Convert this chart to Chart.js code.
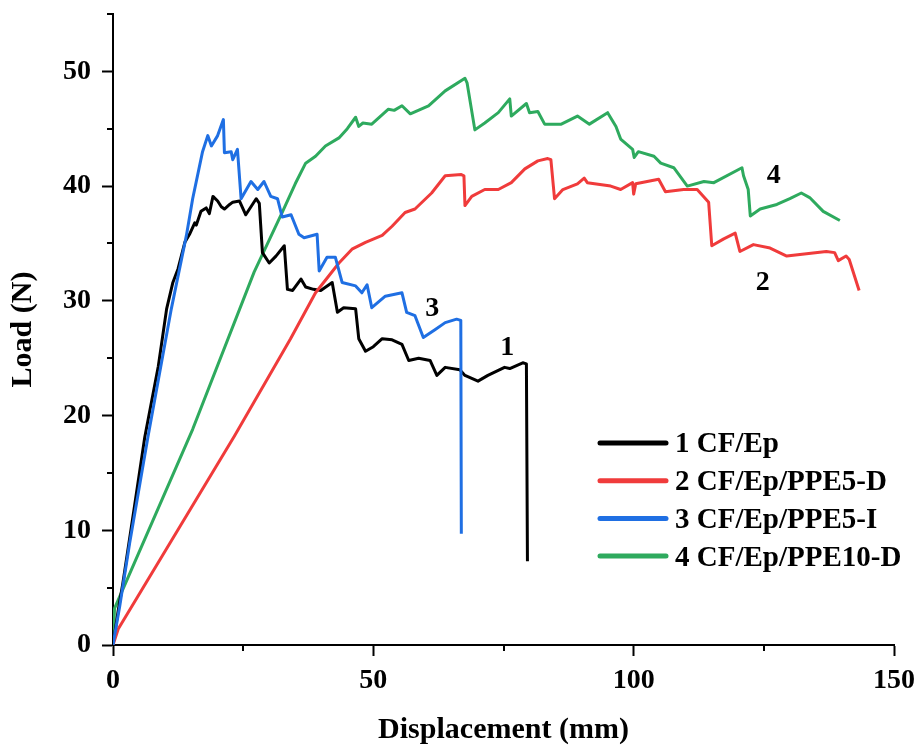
<!DOCTYPE html>
<html>
<head>
<meta charset="utf-8">
<script src="https://cdn.jsdelivr.net/npm/chart.js@4.4.1/dist/chart.umd.min.js"></script>
<style>
  html, body { margin: 0; padding: 0; background: #fff; }
  #wrap { width: 923px; height: 748px; position: relative; }
</style>
</head>
<body>
<div id="wrap"><canvas id="graficoCarga"></canvas></div>
<script>
const seriesNames = ['1 CF/Ep', '2 CF/Ep/PPE5-D', '3 CF/Ep/PPE5-I', '4 CF/Ep/PPE10-D'];
const seriesColors = ['#000000', '#F03B3B', '#1F6FE3', '#2EAA5E'];

// 1 CF/Ep
const disp1 = [0, 1.0, 1.9, 4.0, 6.1, 8.7, 10.3, 11.5, 12.5, 13.8, 14.7, 15.7, 16.0, 16.9, 17.9, 18.5, 19.2, 20.1, 20.8, 21.4, 22.4, 23.0, 24.3, 25.5, 26.5, 27.5, 28.1, 28.7, 30.0, 31.3, 32.9, 33.5, 34.5, 36.1, 37.0, 38.5, 39.9, 42.1, 43.1, 44.3, 46.6, 47.2, 48.5, 50.0, 51.7, 53.6, 55.5, 56.8, 58.7, 60.9, 62.2, 63.8, 66.6, 67.6, 70.1, 72.0, 75.2, 76.2, 78.7, 79.4, 79.6];
const load1 = [0, 3.0, 5.4, 11.7, 18.1, 24.3, 29.3, 31.6, 32.8, 35.1, 35.8, 36.8, 36.6, 37.8, 38.1, 37.6, 39.1, 38.7, 38.2, 38.0, 38.4, 38.6, 38.7, 37.5, 38.2, 38.9, 38.5, 34.2, 33.3, 33.9, 34.8, 31.0, 30.9, 31.9, 31.2, 31.0, 30.9, 31.6, 29.0, 29.4, 29.3, 26.7, 25.6, 26.0, 26.7, 26.6, 26.2, 24.8, 25.0, 24.8, 23.5, 24.2, 24.0, 23.5, 23.0, 23.5, 24.2, 24.1, 24.6, 24.5, 7.3];

// 2 CF/Ep/PPE5-D
const disp2 = [0, 1.0, 23.3, 34.1, 38.9, 43.4, 45.9, 48.5, 51.7, 53.6, 56.1, 58.0, 61.2, 63.8, 66.9, 67.4, 67.6, 68.9, 71.4, 74.0, 76.5, 79.1, 81.6, 83.5, 84.1, 84.8, 86.4, 89.2, 90.5, 91.1, 95.6, 97.5, 99.8, 100.0, 100.4, 104.8, 106.1, 109.6, 112.2, 114.4, 115.0, 117.3, 119.5, 120.4, 123.0, 126.2, 129.4, 133.2, 137.0, 138.6, 139.3, 140.8, 141.4, 143.3];
const load2 = [0, 1.4, 18.2, 26.7, 30.7, 33.3, 34.5, 35.1, 35.7, 36.5, 37.7, 38.0, 39.4, 40.9, 41.0, 40.9, 38.3, 39.1, 39.7, 39.7, 40.3, 41.5, 42.2, 42.4, 42.3, 38.9, 39.7, 40.2, 40.7, 40.3, 40.0, 39.7, 40.3, 39.3, 40.2, 40.6, 39.5, 39.7, 39.7, 38.6, 34.8, 35.4, 35.9, 34.3, 34.9, 34.6, 33.9, 34.1, 34.3, 34.2, 33.5, 33.9, 33.6, 30.9];

// 3 CF/Ep/PPE5-I
const disp3 = [0, 0.3, 1.3, 3.2, 6.7, 11.2, 14.1, 15.3, 17.2, 18.2, 18.9, 20.1, 21.2, 21.4, 22.7, 23.0, 23.9, 24.6, 26.5, 27.8, 29.0, 30.3, 31.6, 32.5, 34.2, 35.7, 36.7, 39.2, 39.6, 41.1, 42.7, 44.0, 46.6, 47.8, 48.8, 49.7, 52.3, 55.5, 56.4, 58.0, 59.6, 61.9, 63.8, 66.0, 66.8, 66.9];
const load3 = [0, 0.8, 3.4, 8.9, 18.1, 29.3, 35.7, 38.9, 43.0, 44.4, 43.5, 44.4, 45.8, 42.9, 43.0, 42.3, 43.2, 38.9, 40.4, 39.7, 40.4, 39.1, 38.9, 37.3, 37.5, 35.8, 35.5, 35.8, 32.6, 33.8, 33.8, 31.6, 31.3, 30.7, 31.4, 29.4, 30.4, 30.7, 29.0, 28.7, 26.8, 27.5, 28.1, 28.4, 28.3, 9.7];

// 4 CF/Ep/PPE10-D
const disp4 = [0, 0.3, 15.3, 27.1, 32.5, 35.0, 37.0, 38.9, 40.8, 43.4, 45.0, 46.6, 47.2, 48.0, 49.7, 52.9, 54.0, 55.5, 57.1, 60.6, 63.8, 67.6, 68.0, 69.5, 71.4, 74.0, 76.2, 76.5, 79.4, 80.0, 81.6, 82.9, 86.1, 89.2, 91.5, 95.0, 96.6, 97.5, 99.8, 100.1, 100.9, 103.9, 105.2, 107.7, 110.3, 113.5, 115.4, 120.8, 121.1, 122.0, 122.4, 124.3, 127.5, 130.0, 132.2, 133.8, 136.4, 139.6];
const load4 = [0, 3.2, 18.8, 32.5, 37.7, 40.2, 42.0, 42.6, 43.5, 44.2, 45.0, 46.0, 45.2, 45.5, 45.4, 46.7, 46.6, 47.0, 46.3, 47.0, 48.3, 49.4, 49.0, 44.9, 45.5, 46.4, 47.6, 46.1, 47.2, 46.4, 46.5, 45.4, 45.4, 46.1, 45.4, 46.4, 45.2, 44.1, 43.2, 42.5, 43.0, 42.6, 42.0, 41.6, 40.0, 40.4, 40.3, 41.6, 40.9, 39.7, 37.4, 38.0, 38.4, 38.9, 39.4, 39.0, 37.8, 37.0];

// curve number tags (data coordinates)
const tagText = ['1', '2', '3', '4'];
const tagX = [75.7, 124.8, 61.3, 126.9];
const tagY = [25.9, 31.6, 29.3, 40.9];

const xLabelTicks = [0, 50, 100, 150];
const yLabelTicks = [0, 10, 20, 30, 40, 50];

const serif = "'Liberation Serif', 'Times New Roman', serif";

function puntos(xs, ys) {
    return xs.map((x, i) => ({ x: x, y: ys[i] }));
}

const curvas = [puntos(disp1, load1), puntos(disp2, load2), puntos(disp3, load3), puntos(disp4, load4)];
const orden = [2, 1, 0, 3];

// short minor ticks
const ticksMenores = {
    id: 'ticksMenores',
    afterDraw(chart) {
        const c = chart.ctx;
        const area = chart.chartArea;
        const sx = chart.scales.x, sy = chart.scales.y;
        c.save();
        c.strokeStyle = '#000';
        c.lineWidth = 2;
        sx.ticks.forEach(t => {
            if (xLabelTicks.includes(t.value)) return;
            const px = Math.round(sx.getPixelForValue(t.value));
            c.beginPath();
            c.moveTo(px, area.bottom);
            c.lineTo(px, area.bottom + 6);
            c.stroke();
        });
        sy.ticks.forEach(t => {
            if (yLabelTicks.includes(t.value)) return;
            const py = Math.round(sy.getPixelForValue(t.value));
            c.beginPath();
            c.moveTo(area.left - 6, py);
            c.lineTo(area.left, py);
            c.stroke();
        });
        c.restore();
    }
};

// curve numbers next to each line
const etiquetas = {
    id: 'etiquetas',
    afterDatasetsDraw(chart) {
        const c = chart.ctx;
        c.save();
        c.fillStyle = '#000';
        c.font = 'bold 28px ' + serif;
        c.textAlign = 'center';
        c.textBaseline = 'middle';
        tagText.forEach((t, i) => {
            c.fillText(t, chart.scales.x.getPixelForValue(tagX[i]), chart.scales.y.getPixelForValue(tagY[i]));
        });
        c.restore();
    }
};

// legend inside the plot
const leyenda = {
    id: 'leyenda',
    afterDraw(chart) {
        const c = chart.ctx;
        const x0 = 600, y0 = 443, paso = 37.7;
        c.save();
        c.font = 'bold 29px ' + serif;
        c.textBaseline = 'middle';
        c.textAlign = 'left';
        chart.data.datasets.forEach((ds, i) => {
            const y = y0 + i * paso;
            c.strokeStyle = ds.borderColor;
            c.lineWidth = 5;
            c.lineCap = 'round';
            c.beginPath();
            c.moveTo(x0, y);
            c.lineTo(x0 + 66, y);
            c.stroke();
            c.fillStyle = '#000';
            c.fillText(ds.label, x0 + 75, y + 2);
        });
        c.restore();
    }
};

const ctx = document.getElementById('graficoCarga').getContext('2d');

new Chart(ctx, {
    type: 'line',
    data: {
        datasets: seriesNames.map((n, i) => ({
            label: n,
            data: curvas[i],
            borderColor: seriesColors[i],
            backgroundColor: seriesColors[i],
            borderWidth: 3,
            pointRadius: 0,
            tension: 0,
            fill: false,
            borderJoinStyle: 'round',
            order: orden[i]
        }))
    },
    options: {
        responsive: true,
        maintainAspectRatio: false,
        animation: false,
        layout: {
            padding: { top: 14, right: 25, left: 0, bottom: 0 }
        },
        plugins: {
            legend: { display: false },
            tooltip: { enabled: false }
        },
        scales: {
            x: {
                type: 'linear',
                min: 0,
                max: 150,
                border: { display: true, color: '#000', width: 2 },
                grid: {
                    drawOnChartArea: false,
                    drawTicks: true,
                    tickLength: 11,
                    tickWidth: 2,
                    tickColor: c => (c.tick && xLabelTicks.includes(c.tick.value)) ? '#000' : 'rgba(0,0,0,0)'
                },
                ticks: {
                    stepSize: 25,
                    autoSkip: false,
                    maxRotation: 0,
                    padding: 8,
                    color: '#000',
                    font: { family: serif, size: 28, weight: 'bold' },
                    callback: v => xLabelTicks.includes(v) ? v : ''
                },
                title: {
                    display: true,
                    text: 'Displacement (mm)',
                    color: '#000',
                    font: { family: serif, size: 30, weight: 'bold' },
                    padding: { top: 0, bottom: 0 }
                },
                afterFit: s => { s.height = 103; }
            },
            y: {
                min: 0,
                max: 55,
                border: { display: true, color: '#000', width: 2 },
                grid: {
                    drawOnChartArea: false,
                    drawTicks: true,
                    tickLength: 11,
                    tickWidth: 2,
                    tickColor: c => (c.tick && yLabelTicks.includes(c.tick.value)) ? '#000' : 'rgba(0,0,0,0)'
                },
                ticks: {
                    stepSize: 5,
                    autoSkip: false,
                    padding: 11,
                    color: '#000',
                    font: { family: serif, size: 28, weight: 'bold' },
                    callback: v => yLabelTicks.includes(v) ? v : ''
                },
                title: {
                    display: true,
                    text: 'Load (N)',
                    color: '#000',
                    font: { family: serif, size: 30, weight: 'bold' },
                    padding: { top: 5, bottom: 0 }
                },
                afterFit: s => {
                    s.width = 113;
                    s.paddingTop = 0;
                    s.paddingBottom = 0;
                }
            }
        }
    },
    plugins: [ticksMenores, etiquetas, leyenda]
});
</script>
</body>
</html>
